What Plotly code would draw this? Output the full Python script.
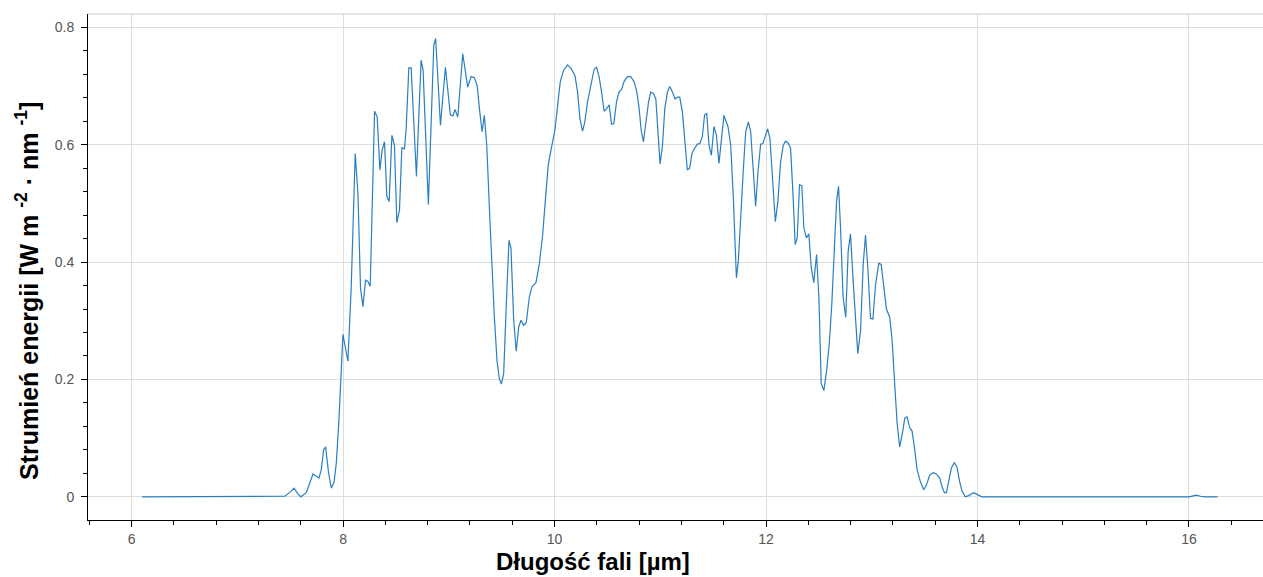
import plotly.graph_objects as go

# wavelength [µm]
wavelength = [
    6.10, 7.40, 7.45, 7.50, 7.536, 7.57, 7.60, 7.652, 7.716, 7.772, 7.794, 7.816, 7.835, 7.863,
    7.889, 7.914, 7.936, 7.961, 7.999, 8.046, 8.077, 8.115, 8.141, 8.165, 8.188, 8.213, 8.235,
    8.257, 8.298, 8.323, 8.348, 8.370, 8.392, 8.414, 8.436, 8.462, 8.486, 8.509, 8.534, 8.556,
    8.581, 8.597, 8.622, 8.644, 8.694, 8.738, 8.757, 8.807, 8.858, 8.876, 8.921, 8.968, 9.015,
    9.038, 9.059, 9.085, 9.132, 9.179, 9.211, 9.242, 9.268, 9.293, 9.315, 9.336, 9.359, 9.384,
    9.406, 9.431, 9.456, 9.478, 9.497, 9.519, 9.544, 9.569, 9.588, 9.614, 9.638, 9.661, 9.683,
    9.708, 9.733, 9.761, 9.787, 9.824, 9.856, 9.888, 9.912, 9.941, 9.973, 10.004, 10.029, 10.054,
    10.086, 10.124, 10.155, 10.193, 10.218, 10.240, 10.265, 10.287, 10.312, 10.337, 10.360,
    10.375, 10.398, 10.422, 10.445, 10.469, 10.495, 10.517, 10.539, 10.561, 10.586, 10.611,
    10.634, 10.658, 10.690, 10.721, 10.753, 10.778, 10.800, 10.819, 10.841, 10.866, 10.889,
    10.910, 10.936, 10.958, 10.979, 10.998, 11.021, 11.043, 11.068, 11.090, 11.115, 11.140,
    11.162, 11.184, 11.209, 11.231, 11.256, 11.278, 11.300, 11.325, 11.351, 11.375, 11.398,
    11.419, 11.439, 11.461, 11.483, 11.508, 11.531, 11.555, 11.578, 11.602, 11.640, 11.666,
    11.691, 11.713, 11.720, 11.738, 11.760, 11.786, 11.808, 11.833, 11.855, 11.877, 11.902,
    11.924, 11.949, 11.971, 11.993, 12.015, 12.037, 12.062, 12.088, 12.112, 12.138, 12.163,
    12.185, 12.210, 12.232, 12.254, 12.276, 12.295, 12.317, 12.339, 12.358, 12.383, 12.405,
    12.428, 12.452, 12.478, 12.500, 12.522, 12.547, 12.573, 12.598, 12.622, 12.648, 12.667,
    12.686, 12.705, 12.729, 12.754, 12.777, 12.799, 12.824, 12.849, 12.868, 12.894, 12.919,
    12.941, 12.963, 12.988, 13.011, 13.035, 13.066, 13.089, 13.113, 13.139, 13.170, 13.193,
    13.215, 13.240, 13.264, 13.290, 13.312, 13.334, 13.359, 13.381, 13.403, 13.429, 13.460,
    13.491, 13.517, 13.548, 13.580, 13.611, 13.643, 13.665, 13.687, 13.706, 13.727, 13.753,
    13.781, 13.806, 13.831, 13.856, 13.885, 13.916, 13.963, 14.001, 14.042, 16.00, 16.04,
    16.07, 16.11, 16.15, 16.27,
]

# energy flux [W m^-2 nm^-1]
flux = [
    0.0, 0.0, 0.001, 0.008, 0.0147, 0.006, 0.0, 0.007, 0.039, 0.032, 0.046, 0.080, 0.085, 0.041,
    0.015, 0.024, 0.057, 0.130, 0.277, 0.231, 0.356, 0.585, 0.515, 0.356, 0.324, 0.369, 0.367,
    0.359, 0.657, 0.647, 0.557, 0.591, 0.605, 0.512, 0.503, 0.616, 0.599, 0.467, 0.489, 0.595,
    0.593, 0.628, 0.731, 0.731, 0.546, 0.744, 0.727, 0.498, 0.769, 0.781, 0.633, 0.732, 0.651,
    0.649, 0.660, 0.647, 0.755, 0.698, 0.716, 0.714, 0.701, 0.656, 0.622, 0.650, 0.599, 0.492,
    0.396, 0.306, 0.232, 0.201, 0.192, 0.210, 0.328, 0.437, 0.424, 0.300, 0.248, 0.289, 0.301,
    0.292, 0.297, 0.340, 0.358, 0.365, 0.396, 0.447, 0.503, 0.566, 0.597, 0.625, 0.667, 0.707,
    0.727, 0.736, 0.730, 0.718, 0.690, 0.645, 0.623, 0.639, 0.673, 0.695, 0.712,
    0.729, 0.732, 0.715, 0.690, 0.657, 0.662, 0.668, 0.635, 0.636, 0.673, 0.690,
    0.694, 0.708, 0.716, 0.716, 0.707, 0.690, 0.662, 0.625, 0.605, 0.645, 0.673,
    0.690, 0.687, 0.678, 0.622, 0.567, 0.599, 0.662, 0.690, 0.699, 0.690, 0.678,
    0.681, 0.681, 0.656, 0.605, 0.557, 0.560, 0.585, 0.594, 0.601, 0.602, 0.614,
    0.651, 0.653, 0.599, 0.582, 0.631, 0.616, 0.568, 0.611, 0.650, 0.631, 0.599,
    0.509, 0.390, 0.373, 0.402, 0.481, 0.560, 0.622, 0.639, 0.622, 0.554, 0.495,
    0.554, 0.601, 0.602, 0.614, 0.627, 0.611, 0.549, 0.469, 0.503, 0.571, 0.599,
    0.606, 0.603, 0.594, 0.520, 0.430, 0.441, 0.532, 0.530, 0.458, 0.441, 0.448,
    0.390, 0.365, 0.413, 0.340, 0.193, 0.181, 0.215, 0.260, 0.328, 0.430, 0.503,
    0.529, 0.458, 0.340, 0.306, 0.419, 0.448, 0.368, 0.289, 0.244, 0.283, 0.396,
    0.446, 0.390, 0.304, 0.303, 0.360, 0.398, 0.396, 0.356, 0.320, 0.306, 0.266,
    0.198, 0.125, 0.085, 0.108, 0.134, 0.136, 0.118, 0.112, 0.085, 0.046, 0.026,
    0.012, 0.020, 0.037, 0.041, 0.039, 0.032, 0.017, 0.007, 0.007, 0.026, 0.049,
    0.058, 0.051, 0.026, 0.009, 0.0, 0.002, 0.007, 0.003, 0.0, 0.0, 0.001,
    0.003, 0.001, 0.0, 0.0,
]

x_ticks = [6, 8, 10, 12, 14, 16]
x_tick_labels = ["6", "8", "10", "12", "14", "16"]
y_ticks = [0, 0.2, 0.4, 0.6, 0.8]
y_tick_labels = ["0", "0.2", "0.4", "0.6", "0.8"]

x_title = "Długość fali [µm]"
y_title = "Strumień energii [W m <sup>-2</sup> · nm <sup>-1</sup>]"

fig = go.Figure()
fig.add_trace(go.Scatter(
    x=wavelength, y=flux, mode="lines",
    line=dict(color="#2a7fc0", width=1.2),
    showlegend=False, hoverinfo="skip",
))

tick_font = dict(family="Liberation Sans, Arial, sans-serif", size=14, color="#555555")
title_font = dict(family="Liberation Sans, Arial, sans-serif", size=24, color="black")
y_title_font = dict(family="Liberation Sans, Arial, sans-serif", size=25, color="black")

fig.update_layout(
    width=1263, height=577,
    margin=dict(l=88, r=0, t=14, b=57),
    paper_bgcolor="white", plot_bgcolor="white",
    xaxis=dict(
        range=[5.588, 16.70],
        tickvals=x_ticks, ticktext=x_tick_labels,
        showgrid=True, gridcolor="#dddddd", gridwidth=1,
        zeroline=False,
        showline=True, linecolor="black", linewidth=1,
        ticks="outside", ticklen=6, tickcolor="black", tickwidth=1,
        tickfont=tick_font,
        minor=dict(dtick=0.4, tick0=0, ticks="outside", ticklen=4,
                   tickcolor="black", showgrid=False),
    ),
    yaxis=dict(
        range=[-0.0395, 0.8227],
        tickvals=y_ticks, ticktext=y_tick_labels,
        showgrid=True, gridcolor="#dddddd", gridwidth=1,
        zeroline=False,
        showline=True, linecolor="black", linewidth=1,
        ticks="outside", ticklen=6, tickcolor="black", tickwidth=1,
        tickfont=tick_font, ticklabelstandoff=4,
        minor=dict(dtick=0.04, tick0=0, ticks="outside", ticklen=4,
                   tickcolor="black", showgrid=False),
    ),
    shapes=[dict(type="line", xref="paper", yref="paper", x0=0, x1=1, y0=1, y1=1,
                 line=dict(color="#cccccc", width=1))],
    annotations=[
        dict(text="<b>" + x_title + "</b>", xref="paper", yref="paper",
             x=0.4298, y=-0.083, xanchor="center", yanchor="middle",
             showarrow=False, font=title_font),
        dict(text="<b>" + y_title + "</b>", xref="paper", yref="paper",
             x=-0.0519, y=0.4526, xanchor="center", yanchor="middle",
             textangle=-90, showarrow=False, font=y_title_font),
    ],
)

fig.write_html("out.html", config={"displayModeBar": False})
